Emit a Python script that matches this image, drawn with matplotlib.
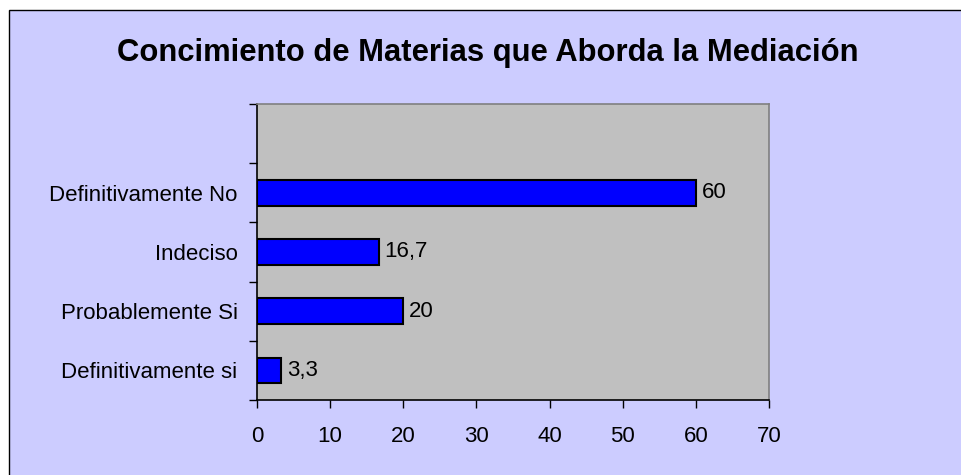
import matplotlib.pyplot as plt
from matplotlib.patches import Rectangle

# Data
categorias = ['Definitivamente si', 'Probablemente Si', 'Indeciso', 'Definitivamente No']
valores = [3.3, 20, 16.7, 60]
titulo = 'Concimiento de Materias que Aborda la Mediación'
x_ticks = [0, 10, 20, 30, 40, 50, 60, 70]

plt.rcParams['font.family'] = ['Liberation Sans', 'DejaVu Sans']

W, H = 962, 475
fig = plt.figure(figsize=(W / 100, H / 100), dpi=100)
fig.patch.set_facecolor('white')

# lavender chart area with black frame (right/bottom edges run off the image)
fig.patches.append(Rectangle((8.5 / W, -0.05), 1.0, 1 - 9.5 / H + 0.05,
                             transform=fig.transFigure, facecolor='#CCCCFF',
                             edgecolor='black', linewidth=1.0, zorder=-5))

ax = fig.add_axes([257 / W, 1 - 400 / H, 512 / W, 296 / H])
ax.set_zorder(2)
ax.set_facecolor('#C0C0C0')

ypos = list(range(len(categorias)))
bars = ax.barh(ypos, valores, height=0.43, color='#0000FF', edgecolor='black', linewidth=1.5)

for b, v in zip(bars, valores):
    ax.annotate(f'{v:g}'.replace('.', ','), (b.get_width(), b.get_y() + b.get_height() / 2),
                xytext=(4, 0), textcoords='offset points', va='center', ha='left', fontsize=16)

ax.set_xlim(0, 70)
ax.set_ylim(-0.5, len(categorias) + 0.5)
ax.set_xticks(x_ticks)
ax.set_xticklabels([str(t) for t in x_ticks], fontsize=16)

# ticks at category boundaries, labels centered in the slots
ax.set_yticks([i - 0.5 for i in range(len(categorias) + 2)])
ax.set_yticklabels([])
ax.set_yticks(ypos, minor=True)
ax.set_yticklabels(categorias, minor=True, fontsize=16)
ax.tick_params(axis='y', which='minor', length=0, pad=14)
ax.tick_params(axis='y', which='major', length=6, width=1, direction='out')
ax.tick_params(axis='x', length=6, width=1, direction='out', pad=12.5)

ax.spines['left'].set_color('black')
ax.spines['bottom'].set_color('black')
ax.spines['top'].set_color('#808080')
ax.spines['right'].set_color('#808080')
for s in ax.spines.values():
    s.set_linewidth(1.2)

fig.text(488 / W, 1 - 53 / H, titulo, ha='center', va='center', fontsize=22.3, fontweight='bold')

fig.savefig('out.png', dpi=100)
